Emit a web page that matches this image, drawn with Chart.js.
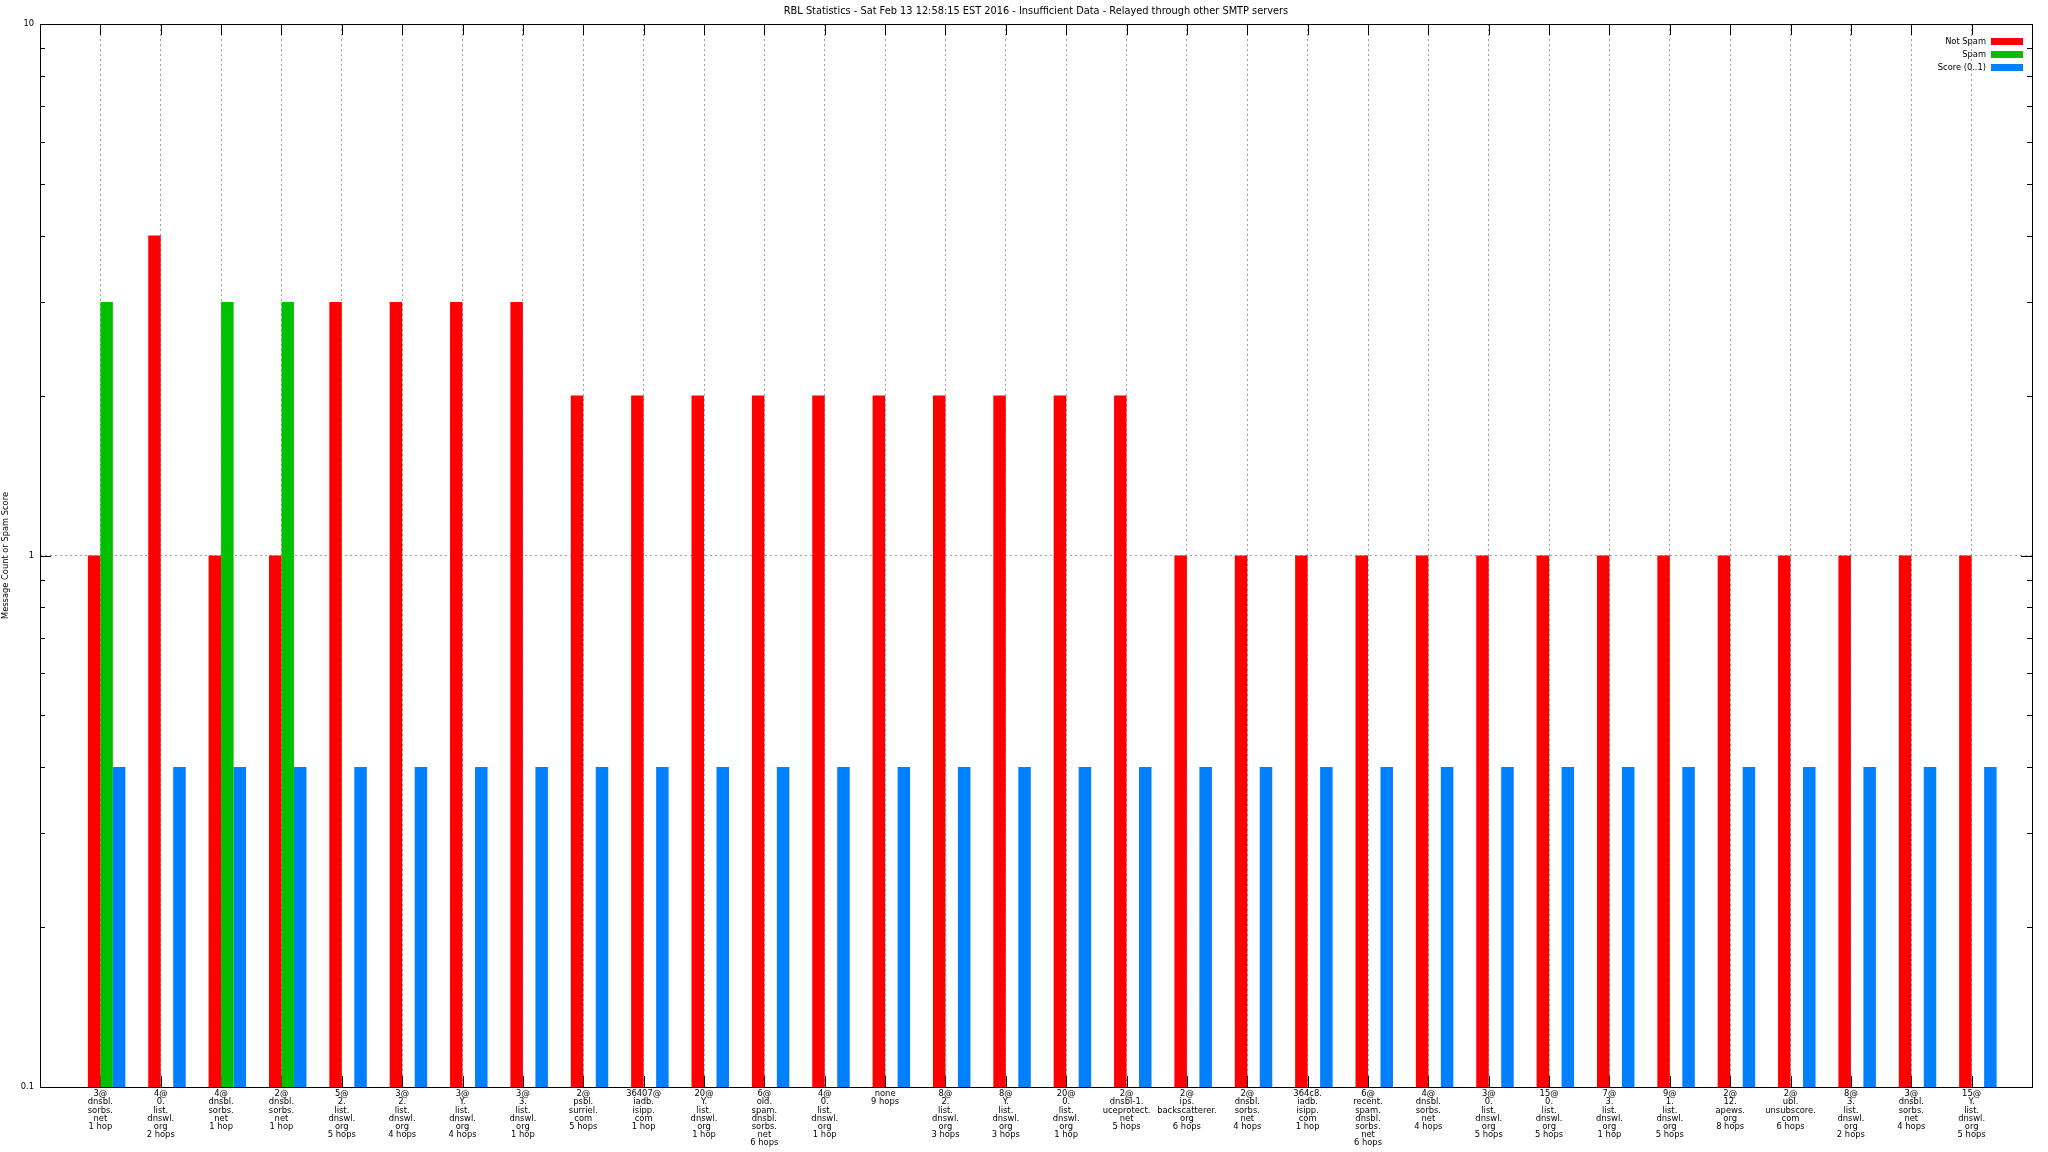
<!DOCTYPE html>
<html>
<head>
<meta charset="utf-8">
<title>RBL Statistics</title>
<script src="https://cdn.jsdelivr.net/npm/chart.js@4/dist/chart.umd.min.js"></script>
<style>
  html, body { margin: 0; padding: 0; background: #ffffff; }
  canvas { display: block; }
</style>
</head>
<body>
<canvas id="rblChart" width="2048" height="1152"></canvas>
<script>
// Datos
const categorias = [
  ["3@", "dnsbl.", "sorbs.", "net", "1 hop"],
  ["4@", "0.", "list.", "dnswl.", "org", "2 hops"],
  ["4@", "dnsbl.", "sorbs.", "net", "1 hop"],
  ["2@", "dnsbl.", "sorbs.", "net", "1 hop"],
  ["5@", "2.", "list.", "dnswl.", "org", "5 hops"],
  ["3@", "2.", "list.", "dnswl.", "org", "4 hops"],
  ["3@", "Y.", "list.", "dnswl.", "org", "4 hops"],
  ["3@", "3.", "list.", "dnswl.", "org", "1 hop"],
  ["2@", "psbl.", "surriel.", "com", "5 hops"],
  ["36407@", "iadb.", "isipp.", "com", "1 hop"],
  ["20@", "Y.", "list.", "dnswl.", "org", "1 hop"],
  ["6@", "old.", "spam.", "dnsbl.", "sorbs.", "net", "6 hops"],
  ["4@", "0.", "list.", "dnswl.", "org", "1 hop"],
  ["none", "9 hops"],
  ["8@", "2.", "list.", "dnswl.", "org", "3 hops"],
  ["8@", "Y.", "list.", "dnswl.", "org", "3 hops"],
  ["20@", "0.", "list.", "dnswl.", "org", "1 hop"],
  ["2@", "dnsbl-1.", "uceprotect.", "net", "5 hops"],
  ["2@", "ips.", "backscatterer.", "org", "6 hops"],
  ["2@", "dnsbl.", "sorbs.", "net", "4 hops"],
  ["364c8.", "iadb.", "isipp.", "com", "1 hop"],
  ["6@", "recent.", "spam.", "dnsbl.", "sorbs.", "net", "6 hops"],
  ["4@", "dnsbl.", "sorbs.", "net", "4 hops"],
  ["3@", "0.", "list.", "dnswl.", "org", "5 hops"],
  ["15@", "0.", "list.", "dnswl.", "org", "5 hops"],
  ["7@", "3.", "list.", "dnswl.", "org", "1 hop"],
  ["9@", "1.", "list.", "dnswl.", "org", "5 hops"],
  ["2@", "12.", "apews.", "org", "8 hops"],
  ["2@", "ubl.", "unsubscore.", "com", "6 hops"],
  ["8@", "3.", "list.", "dnswl.", "org", "2 hops"],
  ["3@", "dnsbl.", "sorbs.", "net", "4 hops"],
  ["15@", "Y.", "list.", "dnswl.", "org", "5 hops"]
];

const noSpam = [1, 4, 1, 1, 3, 3, 3, 3, 2, 2, 2, 2, 2, 2, 2, 2, 2, 2,
  1, 1, 1, 1, 1, 1, 1, 1, 1, 1, 1, 1, 1, 1];
const spam = [3, null, 3, 3, null, null, null, null, null, null, null, null, null, null, null, null,
  null, null, null, null, null, null, null, null, null, null, null, null, null, null, null, null];
const puntaje = [0.4, 0.4, 0.4, 0.4, 0.4, 0.4, 0.4, 0.4, 0.4, 0.4, 0.4, 0.4, 0.4, 0.4, 0.4, 0.4,
  0.4, 0.4, 0.4, 0.4, 0.4, 0.4, 0.4, 0.4, 0.4, 0.4, 0.4, 0.4, 0.4, 0.4, 0.4, 0.4];

const etiquetasY = [0.1, 1, 10];
const titulo = "RBL Statistics - Sat Feb 13 12:58:15 EST 2016 - Insufficient Data - Relayed through other SMTP servers";
const tituloY = "Message Count or Spam Score";

const fuente = "'DejaVu Sans', sans-serif";
const gris = "#a0a0a0";
const transparente = "rgba(0,0,0,0)";

// Marcas del eje Y: mayores y menores de la escala logaritmica
const marcasY = [];
etiquetasY.forEach((base, i) => {
  marcasY.push(base);
  if (i < etiquetasY.length - 1) {
    for (let m = 2; m <= 9; m++) marcasY.push(base * m);
  }
});

// Un hueco vacio a cada lado, como gnuplot
const pad = (arr) => [null].concat(arr, [null]);
const etiquetas = [""].concat(categorias, [""]);

// Titulo, leyenda, marcas y marco
const extras = {
  id: "extras",
  beforeDatasetsDraw(chart) {
    const { ctx, chartArea: a, scales } = chart;
    ctx.save();
    ctx.strokeStyle = "#000000";
    ctx.lineWidth = 1;
    ctx.beginPath();
    // marcas del eje x (arriba y abajo)
    for (let i = 1; i <= categorias.length; i++) {
      const x = Math.round(scales.x.getPixelForValue(i)) + 0.5;
      ctx.moveTo(x, a.top); ctx.lineTo(x, a.top + 11);
      ctx.moveTo(x, a.bottom); ctx.lineTo(x, a.bottom - 11);
    }
    // marcas del eje y (izquierda y derecha)
    marcasY.forEach((v) => {
      const y = Math.round(scales.y.getPixelForValue(v)) + 0.5;
      const largo = etiquetasY.includes(v) ? 11 : 5;
      ctx.moveTo(a.left, y); ctx.lineTo(a.left + largo, y);
      ctx.moveTo(a.right, y); ctx.lineTo(a.right - largo, y);
    });
    ctx.stroke();
    ctx.restore();
  },
  afterDatasetsDraw(chart) {
    const { ctx, chartArea: a } = chart;
    ctx.save();
    ctx.strokeStyle = "#000000";
    ctx.lineWidth = 1;
    ctx.strokeRect(Math.round(a.left) + 0.5, Math.round(a.top) + 0.5,
      Math.round(a.right - a.left), Math.round(a.bottom - a.top));

    ctx.fillStyle = "#000000";
    ctx.font = "9.8px " + fuente;
    ctx.textAlign = "center";
    ctx.textBaseline = "middle";
    ctx.fillText(titulo, (a.left + a.right) / 2, 11);

    // Leyenda arriba a la derecha
    ctx.font = "8.3px " + fuente;
    ctx.textAlign = "right";
    let fila = 0;
    chart.data.datasets.forEach((ds) => {
      if (!ds.label) return;
      const y = a.top + 17.5 + fila * 13;
      ctx.fillStyle = "#000000";
      ctx.fillText(ds.label, a.right - 46, y);
      ctx.fillStyle = ds.backgroundColor;
      ctx.fillRect(a.right - 41, Math.round(y - 3.5), 32, 7);
      fila++;
    });
    ctx.restore();
  }
};

new Chart(document.getElementById("rblChart"), {
  type: "bar",
  data: {
    labels: etiquetas,
    datasets: [
      { label: "", data: pad(noSpam.map(() => null)), backgroundColor: transparente },
      { label: "Not Spam", data: pad(noSpam), backgroundColor: "#ff0000" },
      { label: "Spam", data: pad(spam), backgroundColor: "#00c000" },
      { label: "Score (0..1)", data: pad(puntaje), backgroundColor: "#0080ff" }
    ]
  },
  options: {
    responsive: false,
    animation: false,
    devicePixelRatio: 1,
    layout: { padding: { left: 0, right: 16, top: 24, bottom: 0 } },
    datasets: {
      bar: { categoryPercentage: 0.828, barPercentage: 1.0, borderWidth: 0 }
    },
    plugins: {
      legend: { display: false },
      title: { display: false },
      tooltip: { enabled: false }
    },
    scales: {
      x: {
        type: "category",
        offset: false,
        border: { display: false, dash: [2, 3] },
        grid: {
          offset: false,
          drawTicks: false,
          lineWidth: 1,
          color: (c) => (c.index === 0 || c.index === etiquetas.length - 1) ? transparente : gris
        },
        ticks: {
          autoSkip: false,
          maxRotation: 0,
          minRotation: 0,
          padding: 3,
          color: "#000000",
          font: { family: fuente, size: 8.4, lineHeight: "8.2px" }
        },
        afterFit(scale) { scale.height = 65; }
      },
      y: {
        type: "logarithmic",
        min: 0.1,
        max: 10,
        border: { display: false, dash: [2, 3] },
        afterBuildTicks(scale) {
          scale.ticks = marcasY.map((v) => ({ value: v, major: etiquetasY.includes(v) }));
        },
        grid: {
          drawTicks: false,
          lineWidth: 1,
          color: (c) => (c.tick && c.tick.value === 1) ? gris : transparente
        },
        ticks: {
          autoSkip: false,
          padding: 6,
          color: "#000000",
          font: { family: fuente, size: 8.3 },
          callback: (v) => etiquetasY.includes(v) ? String(v) : ""
        },
        title: {
          display: true,
          text: tituloY,
          color: "#000000",
          padding: { top: 1, bottom: 0 },
          font: { family: fuente, size: 8.3 }
        },
        afterFit(scale) { scale.width = 40; }
      }
    }
  },
  plugins: [extras]
});
</script>
</body>
</html>
